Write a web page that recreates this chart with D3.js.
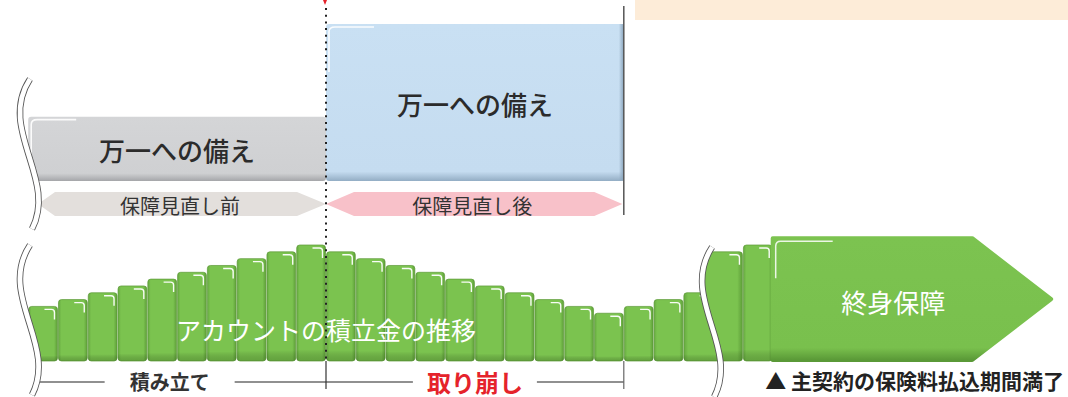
<!DOCTYPE html>
<html>
<head>
<meta charset="utf-8">
<script src="https://cdn.jsdelivr.net/npm/d3@7.9.0/dist/d3.min.js"></script>
<style>
  body { margin: 0; background: #fff; }
  svg { display: block; }
  text { font-family: "Noto Sans CJK JP", "Noto Sans", sans-serif; }
</style>
</head>
<body>
<svg id="chart" width="1068" height="397"></svg>
<script>
// account balance per year (relative units)
const balance = [8, 9, 10, 11, 12, 13, 14, 15, 16, 17, 16, 15, 14, 13, 12, 11, 10, 9, 8, 7, 8, 9, 10, 16, 17];
const breakIndex = 23;          // bars from here on are drawn after the "≈" break
const lifeCover = 18;           // 終身保障 arrow height, same units
const reviewYear = 10;          // 保障見直し
const endYear = 20;             // end of 取り崩し
const coverLevels = [41, 100];  // 万一への備え before / after review (% of max)
const coverLabels = ["万一への備え", "万一への備え"];
const reviewLabels = ["保障見直し前", "保障見直し後"];
const periodLabels = ["積み立て", "取り崩し"];
const accountLabel = "アカウントの積立金の推移";
const lifeLabel = "終身保障";
const endNote = "▲ 主契約の保険料払込期間満了";

const svg = d3.select("#chart");
const defs = svg.append("defs");

const x = d3.scaleLinear().domain([0, 10]).range([28.2, 326]);
const y = d3.scaleLinear().domain([0, 17]).range([361, 245]);
const yc = d3.scaleLinear().domain([0, 100]).range([181, 24]);
const step = x(1) - x(0);

function grad(id, stops, horiz) {
    const g = defs.append("linearGradient").attr("id", id)
        .attr("x1", 0).attr("y1", 0).attr("x2", horiz ? 1 : 0).attr("y2", horiz ? 0 : 1);
    stops.forEach(s => g.append("stop").attr("offset", s[0]).attr("stop-color", s[1]).attr("stop-opacity", s[2] == null ? 1 : s[2]));
}
grad("gGray", [[0, "#d4d5d7"], [0.88, "#cfd0d2"], [1, "#a5a6a9"]]);
grad("gBlue", [[0, "#c9e0f3"], [0.94, "#c5dcf0"], [1, "#93adc4"]]);
grad("gBlueR", [[0, "#8aa4bb", 0], [1, "#8aa4bb", 1]], true);
grad("gBar", [[0, "#66a940"], [0.1, "#7bc34f"], [0.88, "#7bc34f"], [1, "#5e9e39"]], true);
grad("gBarV", [[0, "#000", 0], [0.9, "#000", 0], [1, "#2e5a17", 0.3]]);
grad("gArrow", [[0, "#7cc350"], [0.9, "#79c04d"], [1, "#5a9937"]]);

// peach strip at the top right (cut-off legend)
svg.append("rect").attr("x", 635).attr("y", 0).attr("width", 433).attr("height", 20).attr("fill", "#fdecd8");

// ---- coverage boxes ----
const coverData = [
    { from: 0, to: reviewYear, level: coverLevels[0], fill: "url(#gGray)", label: coverLabels[0] },
    { from: reviewYear, to: endYear, level: coverLevels[1], fill: "url(#gBlue)", label: coverLabels[1] }
];
const cover = svg.append("g");
cover.selectAll("rect.box").data(coverData).enter().append("rect")
    .attr("class", "box")
    .attr("x", d => x(d.from))
    .attr("y", d => yc(d.level))
    .attr("width", d => x(d.to) - x(d.from))
    .attr("height", d => yc(0) - yc(d.level))
    .attr("rx", 3)
    .attr("fill", d => d.fill);
// darker right edge on the blue box
cover.append("rect")
    .attr("x", x(endYear) - 5).attr("y", yc(coverLevels[1]))
    .attr("width", 5).attr("height", yc(0) - yc(coverLevels[1]))
    .attr("fill", "url(#gBlueR)");
// glossy corner highlights
cover.selectAll("path.hl").data(coverData).enter().append("path")
    .attr("class", "hl")
    .attr("d", d => {
        const x0 = x(d.from) + 3, y0 = yc(d.level) + 3;
        return `M${x0},${y0 + 45} L${x0},${y0 + 5} Q${x0},${y0} ${x0 + 6},${y0} L${x0 + 45},${y0}`;
    })
    .attr("fill", "none").attr("stroke", "#fff").attr("stroke-width", 1.6).attr("opacity", 0.9);
cover.selectAll("text").data(coverData).enter().append("text")
    .attr("x", d => (x(d.from) + x(d.to)) / 2)
    .attr("y", d => (yc(d.level) + yc(0)) / 2 + 1)
    .attr("text-anchor", "middle").attr("dominant-baseline", "central")
    .attr("font-size", 26).attr("font-weight", 500).attr("fill", "#2b2b2b")
    .text(d => d.label);

// ---- review bands (hexagon arrows) ----
const bandTop = 192, bandBot = 216, bandMid = 204;
const bandData = [
    { from: 0.33, to: reviewYear, inL: 17, inR: 29, fill: "#e3dfdc", label: reviewLabels[0] },
    { from: reviewYear, to: endYear - 0.05, inL: 28, inR: 28, fill: "#f8c1c9", label: reviewLabels[1] }
];
const bands = svg.append("g");
bands.selectAll("path").data(bandData).enter().append("path")
    .attr("d", d => {
        const a = x(d.from), b = x(d.to);
        return `M${a},${bandMid} L${a + d.inL},${bandTop} L${b - d.inR},${bandTop} L${b},${bandMid} L${b - d.inR},${bandBot} L${a + d.inL},${bandBot} Z`;
    })
    .attr("fill", d => d.fill);
bands.selectAll("text").data(bandData).enter().append("text")
    .attr("x", d => (x(d.from) + x(d.to)) / 2 - 2)
    .attr("y", bandMid + 1)
    .attr("text-anchor", "middle").attr("dominant-baseline", "central")
    .attr("font-size", 20).attr("fill", "#333")
    .text(d => d.label);

// end-of-withdrawal vertical line
svg.append("line")
    .attr("x1", x(endYear)).attr("x2", x(endYear))
    .attr("y1", 6).attr("y2", bandBot - 1)
    .attr("stroke", "#555").attr("stroke-width", 1.5);

// ---- account bars ----
const bars = balance.map((v, i) => ({ i, v }));
const breakTop = 247;
const breakX = x(breakIndex) - 1;
const wave = "c-33,50 28,100 2,150";

defs.append("clipPath").attr("id", "clipBefore").append("path")
    .attr("d", `M0,0 L${breakX},0 L${breakX},${breakTop} ${wave} L${breakX + 2},397 L0,397 Z`);
defs.append("clipPath").attr("id", "clipAfter").append("path")
    .attr("d", `M1068,0 L${breakX},0 L${breakX},${breakTop} ${wave} L${breakX + 2},397 L1068,397 Z`);

function drawBars(g, data) {
    const bx = d => x(d.i) + 0.5 - (d.i === breakIndex ? 14 : 0);
    const bw = d => step - 1 + (d.i === breakIndex - 1 || d.i === breakIndex ? 14 : 0);
    g.selectAll("rect.bar").data(data).enter().append("rect")
        .attr("class", "bar")
        .attr("x", bx).attr("y", d => y(d.v))
        .attr("width", bw).attr("height", d => y(0) - y(d.v))
        .attr("rx", 3)
        .attr("fill", "url(#gBar)")
        .attr("stroke", "#5c9a38").attr("stroke-width", 0.7);
    g.selectAll("rect.shade").data(data).enter().append("rect")
        .attr("class", "shade")
        .attr("x", bx).attr("y", d => y(d.v))
        .attr("width", bw).attr("height", d => y(0) - y(d.v))
        .attr("rx", 3)
        .attr("fill", "url(#gBarV)");
    g.selectAll("path.hl").data(data).enter().append("path")
        .attr("class", "hl")
        .attr("d", d => {
            const r = x(d.i + 1) - 3.5, t = y(d.v) + 3;
            return `M${r - 10},${t} L${r - 3},${t} Q${r},${t} ${r},${t + 3} L${r},${t + 10}`;
        })
        .attr("fill", "none").attr("stroke", "#fff").attr("stroke-width", 1.4).attr("opacity", 0.95);
}
drawBars(svg.append("g").attr("clip-path", "url(#clipBefore)"), bars.filter(d => d.i < breakIndex));
const after = svg.append("g").attr("clip-path", "url(#clipAfter)");
drawBars(after, bars.filter(d => d.i >= breakIndex));

// 終身保障 arrow
const aL = x(balance.length), aC = x(31.7), aT = x(34.35);
const aTop = y(lifeCover), aBot = y(0) - 1, aMid = (aTop + aBot) / 2;
svg.append("path")
    .attr("d", `M${aL},${aTop} L${aC},${aTop} L${aT},${aMid} L${aC},${aBot} L${aL},${aBot} Z`)
    .attr("fill", "url(#gArrow)")
    .attr("stroke", "url(#gArrow)").attr("stroke-width", 4).attr("stroke-linejoin", "round");
svg.append("path")
    .attr("d", `M${aL + 3},${aTop + 40} L${aL + 3},${aTop + 8} Q${aL + 3},${aTop + 3} ${aL + 8},${aTop + 3} L${aL + 60},${aTop + 3}`)
    .attr("fill", "none").attr("stroke", "#fff").attr("stroke-width", 1.5).attr("opacity", 0.85);
svg.append("text")
    .attr("x", x(29.05)).attr("y", aMid + 2)
    .attr("text-anchor", "middle").attr("dominant-baseline", "central")
    .attr("font-size", 26).attr("fill", "#fff")
    .text(lifeLabel);

svg.append("text")
    .attr("x", x(reviewYear)).attr("y", 329)
    .attr("text-anchor", "middle").attr("dominant-baseline", "central")
    .attr("font-size", 25).attr("fill", "#fff")
    .text(accountLabel);

// ---- "≈" break marks ----
function breakMark(x0, y0, cover) {
    const g = svg.append("g");
    if (cover) {
        g.append("path")
            .attr("d", `M${x0},${y0} ${wave} L${x0 - 40},${y0 + 150} L${x0 - 40},${y0} Z`)
            .attr("fill", "#fff");
    }
    g.append("path").attr("d", `M${x0},${y0} ${wave}`)
        .attr("fill", "none").attr("stroke", "#555").attr("stroke-width", 6.5);
    g.append("path").attr("d", `M${x0},${y0} ${wave}`)
        .attr("fill", "none").attr("stroke", "#fff").attr("stroke-width", 4.8);
}

// ---- timeline ----
const tlY = 382;
const periods = [
    { from: -0.5, to: reviewYear, label: periodLabels[0], size: 20, color: "#333", pad: 25 },
    { from: reviewYear, to: endYear, label: periodLabels[1], size: 24, color: "#e5232b", pad: 14 }
];
const tl = svg.append("g");
periods.forEach(p => {
    const cx = (x(p.from) + x(p.to)) / 2;
    const t = tl.append("text")
        .attr("x", cx).attr("y", tlY - 1)
        .attr("text-anchor", "middle").attr("dominant-baseline", "central")
        .attr("font-size", p.size).attr("font-weight", 700).attr("fill", p.color)
        .text(p.label);
    const bb = t.node().getBBox();
    tl.append("line").attr("x1", x(p.from)).attr("x2", bb.x - p.pad)
        .attr("y1", tlY).attr("y2", tlY).attr("stroke", "#222").attr("stroke-width", 1.2);
    tl.append("line").attr("x1", bb.x + bb.width + p.pad).attr("x2", x(p.to))
        .attr("y1", tlY).attr("y2", tlY).attr("stroke", "#222").attr("stroke-width", 1.2);
});
[reviewYear, endYear].forEach(v => {
    tl.append("line").attr("x1", x(v)).attr("x2", x(v))
        .attr("y1", y(0)).attr("y2", 389)
        .attr("stroke", v === reviewYear ? "#333" : "#666").attr("stroke-width", 1.2);
});

svg.append("text")
    .attr("x", 1064).attr("y", 380)
    .attr("text-anchor", "end").attr("dominant-baseline", "central")
    .attr("font-size", 21).attr("font-weight", 700).attr("fill", "#222")
    .text(endNote);

// review point: dotted line and red marker
svg.append("line")
    .attr("x1", x(reviewYear)).attr("x2", x(reviewYear))
    .attr("y1", 8).attr("y2", y(0))
    .attr("stroke", "#222").attr("stroke-width", 2).attr("stroke-dasharray", "2,4.7");
svg.append("path")
    .attr("d", `M${x(reviewYear) - 3},0 L${x(reviewYear) + 1},0 L${x(reviewYear) - 1},5 Z`)
    .attr("fill", "#e5232b");

breakMark(30, 79, true);
breakMark(30, 245, true);
breakMark(breakX, breakTop, false);
</script>
</body>
</html>
